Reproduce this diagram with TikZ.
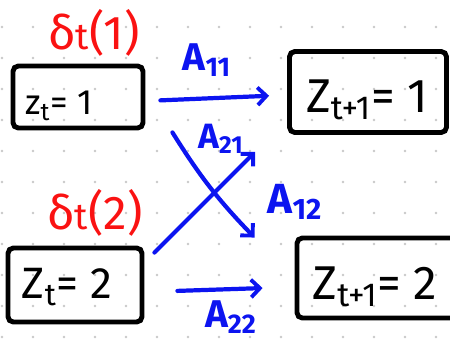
\documentclass[tikz,border=0pt]{standalone}
\usepackage{fontspec}
\setmainfont{Fira Sans}
\usetikzlibrary{arrows.meta}
\definecolor{inkblue}{RGB}{12,20,240}
\definecolor{inkred}{RGB}{250,18,18}
\definecolor{dotgray}{RGB}{200,200,200}
\begin{document}
\begin{tikzpicture}[x=0.02cm,y=-0.02cm,
  statebox/.style={draw=black, line width=2.8pt, rounded corners=3pt, inner sep=0pt},
  statetext/.style={inner sep=0pt, font=\fontsize{#1}{#1}\selectfont},
  redlab/.style={text=inkred, inner sep=0pt, font=\fontsize{27}{27}\selectfont},
  bluelab/.style={text=inkblue, inner sep=0pt, font=\fontsize{#1}{#1}\selectfont\bfseries},
  arr/.style={draw=inkblue, line width=2.4pt, line cap=round,
    -{Straight Barb[length=5pt,width=10pt,line width=2.2pt]}}]
\useasboundingbox (0,0) rectangle (450,342);
\clip (0,0) rectangle (450,342);
% dot grid
\foreach \i in {0,...,14}{
  \foreach \j in {0,...,10}{
    \fill[dotgray] (2+31*\i,27+31*\j) circle (1.3);
  }
}
% boxes
\node[statebox, minimum width=2.6cm, minimum height=1.24cm] (b1) at (78,97) {};
\node[statebox, minimum width=2.68cm, minimum height=1.48cm] (b2) at (75,285) {};
\node[statebox, minimum width=3.14cm, minimum height=1.62cm] (b3) at (368,92) {};
\node[statebox, minimum width=3.36cm, minimum height=1.6cm] (b4) at (381,278) {};
% box texts
\node[statetext=20] (t1) at (59,106) {z\textsubscript{t}= 1};
\node[statetext=25] (t2) at (67,287) {Z\textsubscript{t}= 2};
\node[statetext=27] (t3) at (367,100) {Z\textsubscript{t+1}= 1};
\node[statetext=27] (t4) at (375,287) {Z\textsubscript{t+1}= 2};
% red labels
\node[redlab] (d1) at (94,33) {δ{\fontsize{21}{21}\selectfont t}(1)};
\node[redlab] (d2) at (95,213) {δ{\fontsize{21}{21}\selectfont t}(2)};
% arrows
\draw[arr, shorten <=0.3cm, shorten >=0.36cm] ([yshift=-0.08cm]b1.east) -- ([yshift=-0.06cm]b3.west);
\draw[arr, shorten <=0.66cm, shorten >=0.64cm] ([yshift=-0.14cm]b2.east) -- ([yshift=-0.18cm]b4.west);
\draw[arr, bend right=6] ([xshift=0.54cm,yshift=-0.04cm]b1.south east) to ([xshift=-0.8cm,yshift=-0.04cm]b4.north west);
\draw[arr] ([xshift=0.2cm,yshift=-0.14cm]b2.north east) -- ([xshift=-0.64cm,yshift=-0.34cm]b3.south west);
% blue labels
\node[bluelab=22] (l11) at (207,60) {A\textsubscript{11}};
\node[bluelab=20] (l21) at (221,139) {A\textsubscript{21}};
\node[bluelab=24] (l12) at (295,202) {A\textsubscript{12}};
\node[bluelab=22] (l22) at (231,317) {A\textsubscript{22}};
\end{tikzpicture}
\end{document}
